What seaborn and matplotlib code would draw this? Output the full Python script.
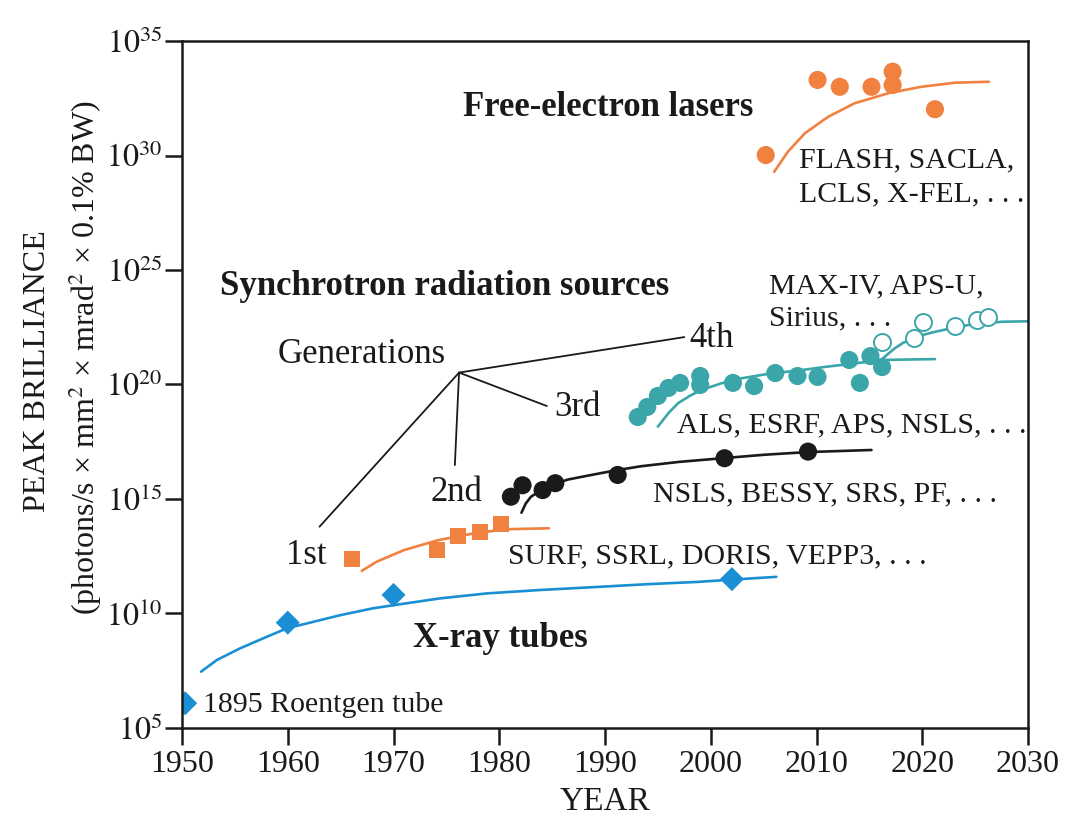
import numpy as np
import pandas as pd
import matplotlib
matplotlib.use("Agg")
import matplotlib.pyplot as plt
import seaborn as sns
from matplotlib.ticker import FixedLocator, NullLocator

# --- data (log10 of peak brilliance) ---
xray_years = [1950.3, 1960, 1970, 2002]
xray_logb = [6.08, 9.6, 10.81, 11.5]
xray_fit_years = [1951.8, 1953.3, 1955.5, 1957.7, 1959.9, 1962.1, 1965.0, 1968.1,
                  1971.3, 1974.4, 1978.9, 1984.0, 1989.3, 1994.0, 1998.8, 2002.0, 2006.2]
xray_fit_logb = [7.46, 7.97, 8.48, 8.92, 9.35, 9.6, 9.93, 10.23,
                 10.45, 10.66, 10.88, 11.03, 11.16, 11.28, 11.38, 11.48, 11.6]

gen1_years = [1966.1, 1974.1, 1976.1, 1978.2, 1980.2]
gen1_logb = [12.38, 12.77, 13.38, 13.57, 13.9]
gen1_fit_years = [1967.0, 1968.4, 1971.0, 1974.2, 1977.6, 1980.7, 1984.7]
gen1_fit_logb = [11.86, 12.26, 12.77, 13.2, 13.5, 13.68, 13.72]

gen2_years = [1981.1, 1982.2, 1984.1, 1985.3, 1991.2, 2001.3, 2009.2]
gen2_logb = [15.1, 15.6, 15.39, 15.69, 16.05, 16.78, 17.07]
gen2_fit_years = [1982.1, 1982.5, 1983.0, 1984.0, 1984.9, 1986.5, 1988.6, 1991.0,
                  1993.4, 1997.0, 2001.1, 2005.0, 2009.2, 2015.2]
gen2_fit_logb = [14.4, 14.8, 15.1, 15.4, 15.61, 15.85, 16.04, 16.25,
                 16.43, 16.62, 16.78, 16.93, 17.05, 17.14]

gen3_years = [1993.1, 1994.0, 1995.0, 1996.0, 1997.1, 1999.0, 1999.0, 2002.1,
              2004.1, 2006.1, 2008.2, 2010.1, 2013.1, 2014.1, 2015.1, 2016.2]
gen3_logb = [18.58, 19.02, 19.5, 19.85, 20.07, 20.37, 19.98, 20.07,
             19.93, 20.5, 20.37, 20.33, 21.07, 20.07, 21.24, 20.76]
gen3_fit_years = [1995.0, 1996.0, 1996.9, 1998.0, 1999.1, 2001.0, 2002.9, 2005.5,
                  2008.6, 2011.0, 2013.3, 2016.1, 2021.2]
gen3_fit_logb = [18.16, 18.75, 19.18, 19.5, 19.76, 20.05, 20.27, 20.47,
                 20.63, 20.78, 20.9, 21.07, 21.11]

gen4_years = [2016.2, 2019.2, 2020.1, 2023.1, 2025.2, 2026.2]
gen4_logb = [21.86, 22.03, 22.73, 22.55, 22.82, 22.95]
gen4_fit_years = [2016.1, 2016.8, 2017.4, 2018.2, 2019.1, 2020.1, 2021.2, 2022.8,
                  2024.4, 2026.0, 2027.5, 2030.0]
gen4_fit_logb = [21.07, 21.35, 21.58, 21.82, 22.02, 22.17, 22.3, 22.46,
                 22.6, 22.68, 22.74, 22.76]

fel_years = [2005.2, 2010.1, 2012.2, 2015.2, 2017.2, 2017.2, 2021.2]
fel_logb = [30.02, 33.3, 33.0, 33.0, 33.66, 33.08, 32.02]
fel_fit_years = [2006.0, 2007.3, 2008.9, 2011.1, 2013.6, 2016.8, 2019.9, 2023.1, 2026.3]
fel_fit_logb = [29.29, 30.17, 30.97, 31.69, 32.28, 32.72, 33.0, 33.18, 33.22]

# "Generations" pointer lines: hub -> label
hub = (1976.2, 20.52)
gen_label_ends = {"1st": (1963.0, 13.79), "2nd": (1975.8, 16.48),
                  "3rd": (1984.5, 19.06), "4th": (1997.5, 22.07)}

BLUE = "#1a8fd4"
ORANGE = "#f0813f"
BLACK = "#1a1a1a"
TEAL = "#3aa6a9"

sns.set_theme(style="ticks")
plt.rcParams["font.family"] = ["Liberation Serif", "DejaVu Serif"]
plt.rcParams["mathtext.fontset"] = "stix"

fig = plt.figure(figsize=(10.77, 8.3), dpi=100)
ax = fig.add_axes([0.169, 0.1229, 0.7855, 0.8277])


def pts(years, logb):
    return pd.DataFrame({"year": years, "b": np.power(10.0, logb)})


lw = 1.9
for fy, fb, col in [(xray_fit_years, xray_fit_logb, BLUE),
                    (gen1_fit_years, gen1_fit_logb, ORANGE),
                    (gen2_fit_years, gen2_fit_logb, BLACK),
                    (gen3_fit_years, gen3_fit_logb, TEAL),
                    (gen4_fit_years, gen4_fit_logb, TEAL),
                    (fel_fit_years, fel_fit_logb, ORANGE)]:
    sns.lineplot(data=pts(fy, fb), x="year", y="b", color=col, linewidth=lw,
                 estimator=None, ax=ax)

sns.scatterplot(data=pts(xray_years, xray_logb), x="year", y="b", marker="D",
                s=150, color=BLUE, edgecolor="none", ax=ax, zorder=5)
sns.scatterplot(data=pts(gen1_years, gen1_logb), x="year", y="b", marker="s",
                s=130, color=ORANGE, edgecolor="none", ax=ax, zorder=5)
sns.scatterplot(data=pts(gen2_years, gen2_logb), x="year", y="b", marker="o",
                s=170, color=BLACK, edgecolor="none", ax=ax, zorder=5)
sns.scatterplot(data=pts(gen3_years, gen3_logb), x="year", y="b", marker="o",
                s=170, color=TEAL, edgecolor="none", ax=ax, zorder=5)
sns.scatterplot(data=pts(gen4_years, gen4_logb), x="year", y="b", marker="o",
                s=150, facecolor="white", edgecolor=TEAL, linewidth=1.4,
                ax=ax, zorder=5)
sns.scatterplot(data=pts(fel_years, fel_logb), x="year", y="b", marker="o",
                s=170, color=ORANGE, edgecolor="none", ax=ax, zorder=5)
for coll in ax.collections:
    coll.set_clip_on(True)
    coll.set_clip_path(ax.patch)

# pointer lines
for name, (ex, ey) in gen_label_ends.items():
    ax.plot([hub[0], ex], [10 ** hub[1], 10 ** ey], color=BLACK, lw=1.3, zorder=3)

# axes setup
ax.set_yscale("log")
ax.set_xlim(1950, 2030)
ax.set_ylim(1e5, 1e35)
ax.xaxis.set_major_locator(FixedLocator(np.arange(1950, 2031, 10)))
ax.yaxis.set_major_locator(FixedLocator([10.0 ** k for k in range(5, 36, 5)]))
ax.yaxis.set_minor_locator(NullLocator())
ax.set_yticklabels([f"$10^{{{k}}}$" for k in range(5, 36, 5)])
ax.tick_params(axis="both", direction="out", length=12, width=1.8,
               labelsize=23, colors="#1a1a1a", pad=4)
ax.tick_params(axis="y", pad=2)
for sp in ax.spines.values():
    sp.set_linewidth(1.8)
    sp.set_color("#1a1a1a")
    sp.set_zorder(6)

ax.set_xlabel("YEAR", fontsize=24, labelpad=5, color="#1a1a1a")
ax.set_ylabel("")
fig.text(38 / 1077, 1 - 371 / 830, "PEAK BRILLIANCE", rotation=90,
         ha="center", va="center", fontsize=23, color="#1a1a1a")
fig.text(85 / 1077, 1 - 358 / 830,
         "(photons/s × mm$^2$ × mrad$^2$ × 0.1% BW)", rotation=90,
         ha="center", va="center", fontsize=23, color="#1a1a1a")

txt = dict(fontsize=21.5, color="#1a1a1a")
big = dict(fontsize=25, color="#1a1a1a")
bold = dict(fontsize=25, color="#1a1a1a", fontweight="bold")
ax.text(1976.6, 10 ** 32.1, "Free-electron lasers", ha="left", va="center", **bold)
ax.text(2008.3, 10 ** 29.8, "FLASH, SACLA,", ha="left", va="center", **txt)
ax.text(2008.3, 10 ** 28.3, "LCLS, X-FEL, . . .", ha="left", va="center", **txt)
ax.text(1953.6, 10 ** 24.3, "Synchrotron radiation sources", ha="left", va="center", **bold)
ax.text(2005.5, 10 ** 24.3, "MAX-IV, APS-U,", ha="left", va="center", **txt)
ax.text(2005.5, 10 ** 22.9, "Sirius, . . .", ha="left", va="center", **txt)
ax.text(1959.0, 10 ** 21.3, "Generations", ha="left", va="center", **big)
ax.text(1998.0, 10 ** 22.0, "4th", ha="left", va="center", **big)
ax.text(1985.2, 10 ** 19.0, "3rd", ha="left", va="center", **big)
ax.text(1973.5, 10 ** 15.3, "2nd", ha="left", va="center", **big)
ax.text(1959.8, 10 ** 12.55, "1st", ha="left", va="center", **big)
ax.text(1996.8, 10 ** 18.2, "ALS, ESRF, APS, NSLS, . . .", ha="left", va="center", **txt)
ax.text(1994.5, 10 ** 15.2, "NSLS, BESSY, SRS, PF, . . .", ha="left", va="center", **txt)
ax.text(1980.8, 10 ** 12.5, "SURF, SSRL, DORIS, VEPP3, . . .", ha="left", va="center", **txt)
ax.text(1971.8, 10 ** 8.9, "X-ray tubes", ha="left", va="center", **bold)
ax.text(1952.0, 10 ** 6.0, "1895 Roentgen tube", ha="left", va="center", **txt)

fig.savefig("out.png", dpi=100, facecolor="white")
